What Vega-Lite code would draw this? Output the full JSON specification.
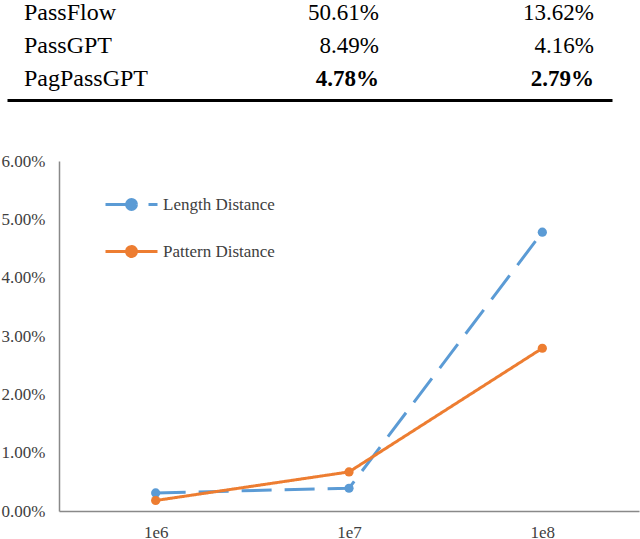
{
  "$schema": "https://vega.github.io/schema/vega-lite/v6.json",
  "padding": {"left": 1, "top": 0, "right": 0, "bottom": 0},
  "background": "white",
  "config": {"view": {"stroke": null}, "font": "Liberation Serif"},
  "spacing": 52,
  "datasets": {
    "table": [
      {"method": "PassFlow", "length": "50.61%", "pattern": "13.62%", "best": false},
      {"method": "PassGPT", "length": "8.49%", "pattern": "4.16%", "best": false},
      {"method": "PagPassGPT", "length": "4.78%", "pattern": "2.79%", "best": true}
    ],
    "series": [
      {"size": "1e6", "series": "Length Distance", "value": 0.0031},
      {"size": "1e7", "series": "Length Distance", "value": 0.0039},
      {"size": "1e8", "series": "Length Distance", "value": 0.0478},
      {"size": "1e6", "series": "Pattern Distance", "value": 0.0018},
      {"size": "1e7", "series": "Pattern Distance", "value": 0.0067},
      {"size": "1e8", "series": "Pattern Distance", "value": 0.0279}
    ]
  },
  "vconcat": [
    {
      "width": 580,
      "height": 92,
      "data": {"name": "table"},
      "encoding": {
        "y": {"field": "method", "type": "nominal", "scale": {"type": "point", "domain": ["PassFlow", "PassGPT", "PagPassGPT"], "padding": 0.394}, "axis": null}
      },
      "layer": [
        {
          "mark": {"type": "text", "align": "left", "dx": 17, "fontSize": 24, "font": "Liberation Serif", "color": "black"},
          "encoding": {
            "x": {"datum": "Method", "type": "nominal", "scale": {"type": "point", "domain": ["Method", "Length", "Pattern"], "padding": 0, "range": [-52, 553]},
              "axis": {"domain": true, "domainColor": "black", "domainWidth": 3, "ticks": false, "labels": false, "title": null, "grid": false, "offset": 8}},
            "text": {"field": "method"}
          }
        },
        {
          "transform": [{"filter": "!datum.best"}],
          "mark": {"type": "text", "align": "right", "dx": 69.5, "fontSize": 23, "font": "Liberation Serif", "color": "black"},
          "encoding": {"x": {"datum": "Length", "type": "nominal"}, "text": {"field": "length"}}
        },
        {
          "transform": [{"filter": "!datum.best"}],
          "mark": {"type": "text", "align": "right", "dx": -18, "fontSize": 23, "font": "Liberation Serif", "color": "black"},
          "encoding": {"x": {"datum": "Pattern", "type": "nominal"}, "text": {"field": "pattern"}}
        },
        {
          "transform": [{"filter": "datum.best"}],
          "mark": {"type": "text", "align": "right", "dx": 69.5, "fontSize": 23, "fontWeight": "bold", "font": "Liberation Serif", "color": "black"},
          "encoding": {"x": {"datum": "Length", "type": "nominal"}, "text": {"field": "length"}}
        },
        {
          "transform": [{"filter": "datum.best"}],
          "mark": {"type": "text", "align": "right", "dx": -18, "fontSize": 23, "fontWeight": "bold", "font": "Liberation Serif", "color": "black"},
          "encoding": {"x": {"datum": "Pattern", "type": "nominal"}, "text": {"field": "pattern"}}
        }
      ]
    },
    {
      "width": 580,
      "height": 350,
      "data": {"name": "series"},
      "encoding": {
        "x": {"field": "size", "type": "ordinal", "scale": {"type": "point", "padding": 0.5, "domain": ["1e6", "1e7", "1e8"]},
          "axis": {"labelAngle": 0, "ticks": false, "domainColor": "#898989", "domainWidth": 1.5, "labelFont": "Liberation Serif", "labelFontSize": 17, "labelColor": "#404040", "labelPadding": 13, "title": null, "grid": false}},
        "y": {"field": "value", "type": "quantitative", "scale": {"domain": [0, 0.06]},
          "axis": {"values": [0, 0.01, 0.02, 0.03, 0.04, 0.05, 0.06], "format": ".2%", "ticks": false, "grid": false, "domainColor": "#898989", "domainWidth": 1.5, "labelFont": "Liberation Serif", "labelFontSize": 17, "labelColor": "#404040", "labelPadding": 14, "title": null}},
        "color": {"field": "series", "type": "nominal",
          "scale": {"domain": ["Length Distance", "Pattern Distance"], "range": ["#5B9BD5", "#ED7D31"]},
          "legend": {
            "orient": "none", "legendX": 45, "legendY": 177, "title": null,
            "symbolType": "M-1,0L1,0M0.19,0A0.19,0.19,0,1,1,-0.19,0A0.19,0.19,0,1,1,0.19,0Z",
            "symbolSize": 2704, "symbolStrokeWidth": 3,
            "labelFont": "Liberation Serif", "labelFontSize": 17, "labelColor": "#404040", "labelOffset": 4, "rowPadding": 8,
            "encode": {"symbols": {"update": {"fill": {"signal": "datum.value === 'Length Distance' ? '#5B9BD5' : '#ED7D31'"}, "fillOpacity": {"value": 1}}}}
          }
        }
      },
      "layer": [
        {
          "mark": {"type": "line", "strokeWidth": 3},
          "encoding": {
            "strokeDash": {"field": "series", "type": "nominal", "scale": {"domain": ["Length Distance", "Pattern Distance"], "range": [[30, 13], [1, 0]]}}
          }
        },
        {
          "mark": {"type": "point", "filled": true, "size": 85, "opacity": 1}
        }
      ]
    }
  ]
}
